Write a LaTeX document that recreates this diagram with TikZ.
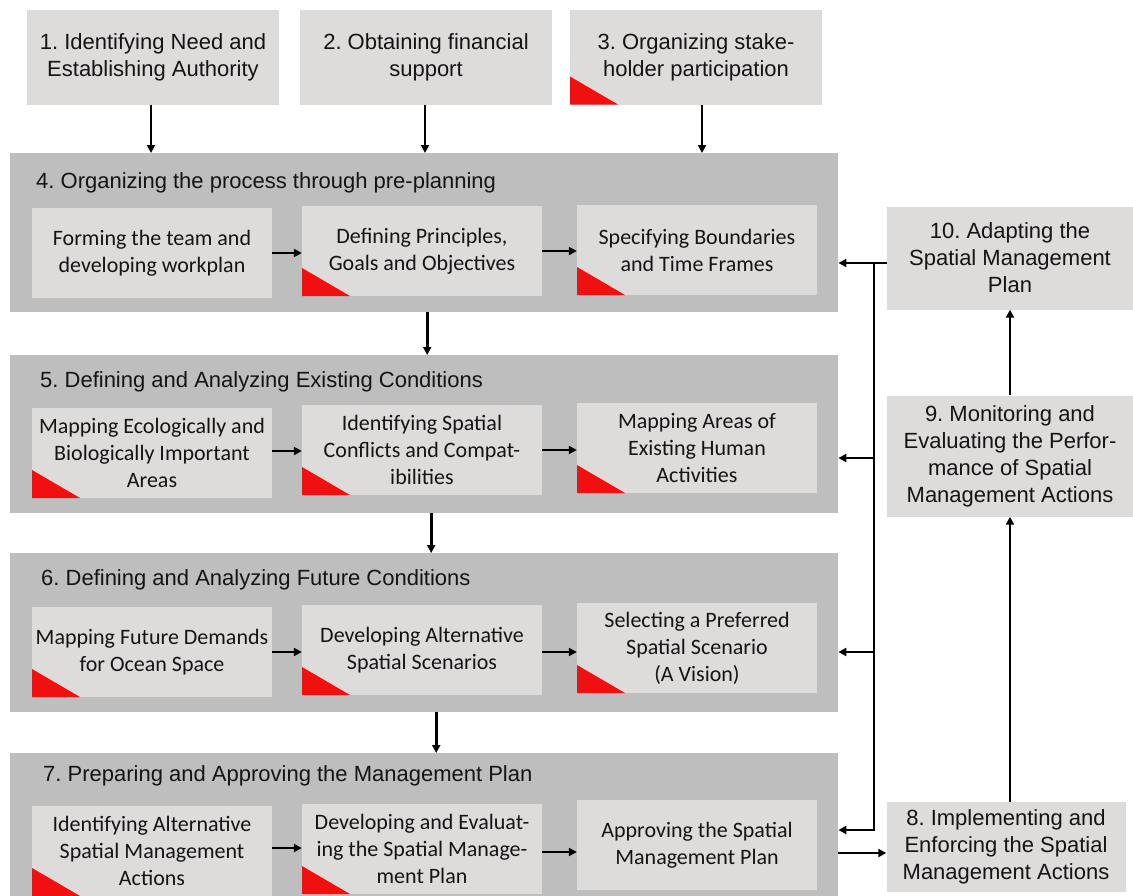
\documentclass[tikz,border=0pt]{standalone}
\usepackage{fontspec}
\setmainfont{Liberation Sans}
\newfontfamily\calibfont{Carlito}
\usetikzlibrary{arrows.meta}
\frenchspacing
\definecolor{outergray}{HTML}{BEBEBE}
\definecolor{boxgray}{HTML}{DEDBDB}
\definecolor{flagred}{HTML}{F01010}
\definecolor{inkgray}{HTML}{141414}
\tikzset{
  outerbox/.style={rectangle, fill=outergray, anchor=north west, inner sep=0pt, minimum width=828pt},
  headbox/.style={rectangle, fill=boxgray, inner sep=2pt, align=center, text=inkgray, font=\fontsize{22}{27}\selectfont},
  stepbox/.style={rectangle, fill=boxgray, minimum width=240pt, minimum height=90pt, inner sep=2pt, align=center, text=inkgray, font=\calibfont\fontsize{22}{27}\selectfont},
  flagged/.style={path picture={\fill[flagred] (path picture bounding box.south west) -- ++(48pt,0pt) -- ++(-48pt,28pt) -- cycle;}},
  title/.style={anchor=west, inner sep=0pt, text=inkgray, font=\fontsize{22}{27}\selectfont},
  arr/.style={-{Triangle[length=8pt,width=8pt]}, line width=2.7pt, black},
}
\begin{document}
\begin{tikzpicture}[x=1pt,y=-1pt]
\useasboundingbox[fill=white] (0,0) rectangle (1133,895);
% Define the nodes
\node[headbox, minimum width=252pt, minimum height=95pt] at (153,57) (top1) {1. Identifying Need and\\Establishing Authority};
\node[headbox, minimum width=252pt, minimum height=95pt] at (426,57) (top2) {2. Obtaining financial\\support};
\node[headbox, flagged, minimum width=252pt, minimum height=95pt] at (696,57) (top3) {3. Organizing stake-\\holder participation};
\node[outerbox, minimum height=159pt] at (10,153) (out4) {};
\node[title] at (36,183) (t4) {4. Organizing the process through pre-planning};
\node[stepbox] at (152,253) (in4a) {Forming the team and\\developing workplan};
\node[stepbox, flagged] at (422,251) (in4b) {Defining Principles,\\Goals and Objectives};
\node[stepbox, flagged] at (697,250) (in4c) {Specifying Boundaries\\and Time Frames};
\node[outerbox, minimum height=158pt] at (10,355) (out5) {};
\node[title] at (40,382) (t5) {5. Defining and Analyzing Existing Conditions};
\node[stepbox, flagged] at (152,453) (in5a) {Mapping Ecologically and\\Biologically Important\\Areas};
\node[stepbox, flagged] at (422,450) (in5b) {Identifying Spatial\\Conflicts and Compat-\\ibilities};
\node[stepbox, flagged] at (697,448) (in5c) {Mapping Areas of\\Existing Human\\Activities};
\node[outerbox, minimum height=159pt] at (10,553) (out6) {};
\node[title] at (41,580) (t6) {6. Defining and Analyzing Future Conditions};
\node[stepbox, flagged] at (152,652) (in6a) {Mapping Future Demands\\for Ocean Space};
\node[stepbox, flagged] at (422,650) (in6b) {Developing Alternative\\Spatial Scenarios};
\node[stepbox, flagged] at (697,648) (in6c) {Selecting a Preferred\\Spatial Scenario\\(A Vision)};
\node[outerbox, minimum height=160pt] at (10,753) (out7) {};
\node[title] at (43,776) (t7) {7. Preparing and Approving the Management Plan};
\node[stepbox, flagged] at (152,851) (in7a) {Identifying Alternative\\Spatial Management\\Actions};
\node[stepbox, flagged] at (422,849) (in7b) {Developing and Evaluat-\\ing the Spatial Manage-\\ment Plan};
\node[stepbox] at (697,845) (in7c) {Approving the Spatial\\Management Plan};
\node[headbox, minimum width=246pt, minimum height=103pt] at (1010,258) (r10) {10. Adapting the\\Spatial Management\\Plan};
\node[headbox, minimum width=246pt, minimum height=121pt] at (1010,456) (r9) {9. Monitoring and\\Evaluating the Perfor-\\mance of Spatial\\Management Actions};
\node[headbox, minimum width=239pt, minimum height=90pt] at (1006,847) (r8) {8. Implementing and\\Enforcing the Spatial\\Management Actions};
\coordinate (j4) at (874,263);
\coordinate (j5) at (874,458);
\coordinate (j6) at (874,652);
\coordinate (j7) at (874,830);
% Draw the paths
\draw[arr] ([xshift=-2pt]top1.south) -- ([xshift=-2pt]top1.south |- out4.north);
\draw[arr] ([xshift=-1pt]top2.south) -- ([xshift=-1pt]top2.south |- out4.north);
\draw[arr] ([xshift=6pt]top3.south) -- ([xshift=6pt]top3.south |- out4.north);
\draw[arr] ([xshift=3pt]out4.south) -- ([xshift=3pt]out4.south |- out5.north);
\draw[arr] ([xshift=7pt]out5.south) -- ([xshift=7pt]out5.south |- out6.north);
\draw[arr] ([xshift=12pt]out6.south) -- ([xshift=12pt]out6.south |- out7.north);
\draw[arr] (in4a.east) -- (in4a.east -| in4b.west);
\draw[arr] (in4b.east) -- (in4b.east -| in4c.west);
\draw[arr] ([yshift=2pt]in5a.east) -- ([yshift=2pt]in5a.east -| in5b.west);
\draw[arr] (in5b.east) -- (in5b.east -| in5c.west);
\draw[arr] (in6a.east) -- (in6a.east -| in6b.west);
\draw[arr] ([yshift=-2pt]in6b.east) -- ([yshift=-2pt]in6b.east -| in6c.west);
\draw[arr] ([yshift=3pt]in7a.east) -- ([yshift=3pt]in7a.east -| in7b.west);
\draw[arr] ([yshift=-3pt]in7b.east) -- ([yshift=-3pt]in7b.east -| in7c.west);
\draw[arr] (r10.west |- j4) -- (out4.east |- j4);
\draw[arr] (j4) -- (j7) -- (out7.east |- j7);
\draw[arr] (j5) -- (out5.east |- j5);
\draw[arr] (j6) -- (out6.east |- j6);
\draw[arr] (r9.north) -- (r10.south);
\draw[arr] (r8.north -| r9.south) -- (r9.south);
\draw[arr] ([yshift=-6pt]r8.west -| out7.east) -- ([yshift=-6pt]r8.west);
\end{tikzpicture}
\end{document}
